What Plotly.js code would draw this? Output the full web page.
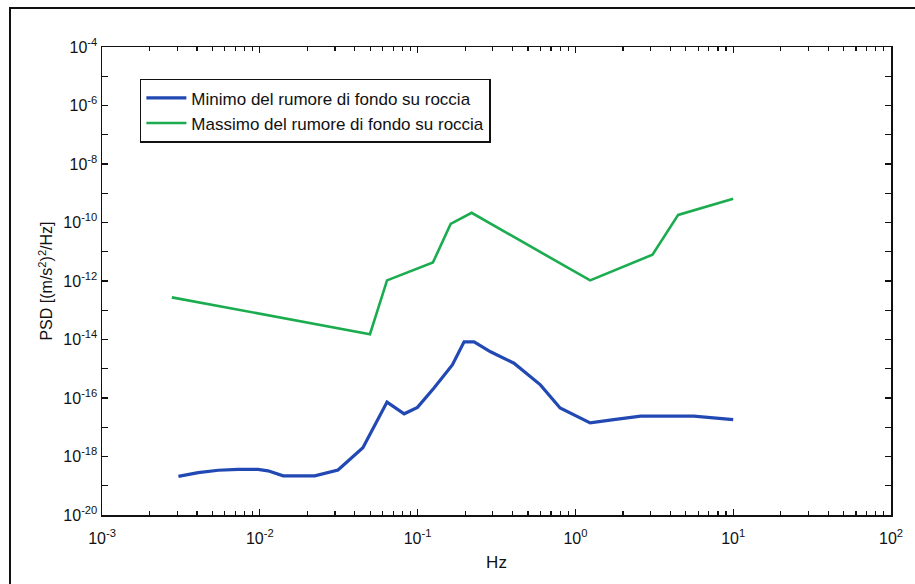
<!DOCTYPE html>
<html>
<head>
<meta charset="utf-8">
<script src="https://cdn.plot.ly/plotly-3.0.1.min.js"></script>
<style>
html,body{margin:0;padding:0;background:#fff;}
#wrap{position:relative;width:915px;height:584px;overflow:hidden;}
#frame{position:absolute;left:9px;top:7px;width:930px;height:600px;border:2px solid #111;box-sizing:border-box;pointer-events:none;z-index:5;}
#chart{position:absolute;left:0;top:0;width:915px;height:584px;}
</style>
</head>
<body>
<div id="wrap"><div id="chart"></div><div id="frame"></div></div>
<script>
// Minimum background noise on rock (blue)
const minFreq = [0.00305, 0.00407, 0.00546, 0.0073, 0.00975, 0.01127, 0.01406, 0.0223, 0.0313, 0.0450, 0.064, 0.0822, 0.0998, 0.127, 0.166, 0.197, 0.228, 0.290, 0.408, 0.60, 0.80, 1.24, 1.75, 2.59, 5.62, 10.0];
const minPSD  = [-18.68, -18.55, -18.47, -18.44, -18.44, -18.49, -18.66, -18.66, -18.46, -17.70, -16.14, -16.54, -16.32, -15.66, -14.87, -14.08, -14.08, -14.42, -14.81, -15.55, -16.34, -16.85, -16.74, -16.62, -16.62, -16.74];
// Maximum background noise on rock (green)
const maxFreq = [0.00277, 0.0499, 0.064, 0.125, 0.162, 0.22, 1.24, 3.08, 4.48, 10.0];
const maxPSD  = [-12.56, -13.82, -11.98, -11.37, -10.05, -9.67, -11.98, -11.1, -9.74, -9.19];

const xTickVals = [0.001, 0.01, 0.1, 1, 10, 100];
const xTickText = ['10<sup>-3</sup>','10<sup>-2</sup>','10<sup>-1</sup>','10<sup>0</sup>','10<sup>1</sup>','10<sup>2</sup>'];
const yExps = [-20,-19,-18,-17,-16,-15,-14,-13,-12,-11,-10,-9,-8,-7,-6,-5,-4];

const pow10 = a => a.map(v => Math.pow(10, v));
const xMinor = [];
for (let e = -3; e < 2; e++) for (let m = 2; m <= 9; m++) xMinor.push(m * Math.pow(10, e));

const traces = [
  {x: minFreq, y: pow10(minPSD), mode: 'lines', name: 'Minimo del rumore di fondo su roccia',
   line: {color: '#2249b3', width: 3.2}},
  {x: maxFreq, y: pow10(maxPSD), mode: 'lines', name: 'Massimo del rumore di fondo su roccia',
   line: {color: '#1aac4f', width: 2.6}}
];

const fontFam = 'Liberation Sans, Arial, sans-serif';
const layout = {
  width: 915, height: 584,
  margin: {l: 102, r: 24, t: 47, b: 69},
  paper_bgcolor: '#fff', plot_bgcolor: '#fff',
  showlegend: true,
  legend: {x: 0.048, y: 0.932, xanchor: 'left', yanchor: 'top', bgcolor: '#fff',
    bordercolor: '#111', borderwidth: 1.5, font: {family: fontFam, size: 17, color: '#111'},
    tracegroupgap: 0, itemwidth: 40},
  xaxis: {type: 'log', range: [-3, 2], showgrid: false, zeroline: false,
    showline: true, linecolor: '#111', linewidth: 1.5, mirror: 'allticks',
    ticks: 'inside', ticklen: 6, tickwidth: 1.3, tickcolor: '#111',
    tickvals: xTickVals, ticktext: xTickText, ticklabelstandoff: 8,
    minor: {tickvals: xMinor, ticks: 'inside', ticklen: 4, tickwidth: 1.2, tickcolor: '#111', showgrid: false},
    tickfont: {family: fontFam, size: 16, color: '#111'},
    title: {text: 'Hz', font: {family: fontFam, size: 17, color: '#111'}, standoff: 10}},
  yaxis: {type: 'log', range: [-20, -4], showgrid: false, zeroline: false,
    showline: true, linecolor: '#111', linewidth: 1.5, mirror: 'allticks',
    ticks: 'inside', ticklen: 6, tickwidth: 1.3, tickcolor: '#111',
    tickvals: pow10(yExps),
    ticktext: yExps.map(e => (e % 2 === 0) ? '10<sup>' + e + '</sup>' : ''),
    tickfont: {family: fontFam, size: 16, color: '#111'},
    title: {text: 'PSD [(m/s<sup>2</sup>)<sup>2</sup>/Hz]', font: {family: fontFam, size: 16, color: '#111'}, standoff: 6}}
};

Plotly.newPlot('chart', traces, layout, {displayModeBar: false, staticPlot: true});
</script>
</body>
</html>
